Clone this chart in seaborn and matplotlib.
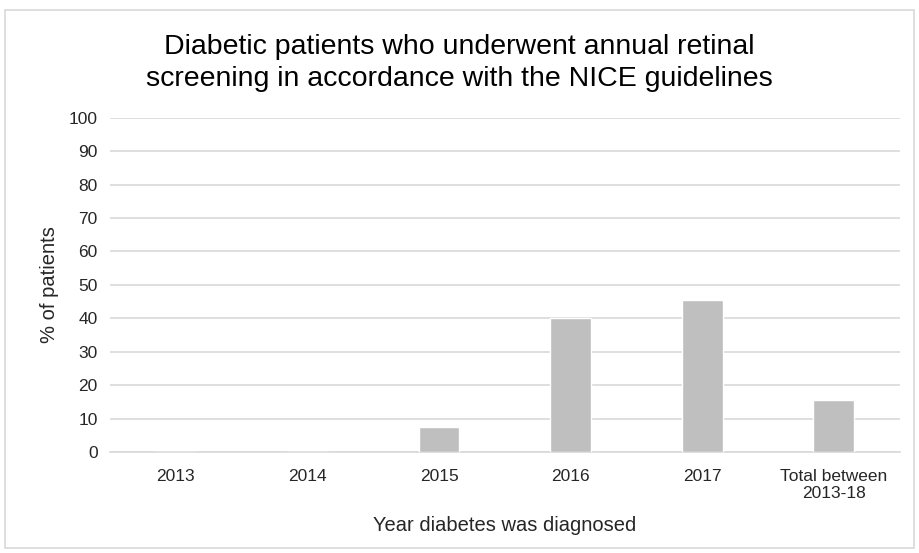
import matplotlib
matplotlib.use("Agg")
import matplotlib.pyplot as plt
import seaborn as sns
import pandas as pd
from matplotlib.patches import Rectangle

categories = ["2013", "2014", "2015", "2016", "2017", "Total between\n2013-18"]
values = [0, 0, 7.5, 40, 45.5, 15.5]
yticks = [0, 10, 20, 30, 40, 50, 60, 70, 80, 90, 100]

sns.set_theme(style="white")
plt.rcParams['font.family'] = ['Liberation Sans', 'DejaVu Sans']

df = pd.DataFrame({"cat": categories, "val": values})

fig = plt.figure(figsize=(9.19, 5.53), dpi=100)
ax = fig.add_axes([0.1197, 0.1826, 0.979 - 0.1197, 0.7873 - 0.1826])

sns.barplot(data=df, x="cat", y="val", color="#bfbfbf", width=0.31,
            saturation=1, ax=ax, zorder=3)

ax.set_ylim(0, 100)
ax.set_xlim(-0.5, len(categories) - 0.5)
ax.set_yticks(yticks)
ax.yaxis.grid(True, color="#d9d9d9", linewidth=1.2, zorder=0)
ax.set_axisbelow(True)
for s in ["top", "right", "left"]:
    ax.spines[s].set_visible(False)
ax.spines["bottom"].set_color("#d9d9d9")
ax.spines["bottom"].set_linewidth(1.2)
ax.tick_params(axis="both", length=0, labelsize=12.5, colors="#262626")
ax.tick_params(axis="x", pad=12)
ax.tick_params(axis="y", pad=9)
ax.set_xlabel("Year diabetes was diagnosed", fontsize=14.5, color="#262626", labelpad=11)
ax.set_ylabel("% of patients", fontsize=14.5, color="#262626", labelpad=7)

fig.text(0.5, 0.886, "Diabetic patients who underwent annual retinal\nscreening in accordance with the NICE guidelines",
         ha="center", va="center", fontsize=20.5, color="#000000", linespacing=1.3)

fig.patches.append(Rectangle((5 / 919, 5 / 553), 909 / 919, 538 / 553, transform=fig.transFigure,
                             fill=False, edgecolor="#d9d9d9", linewidth=1.2))

fig.savefig("out.png", dpi=100)
